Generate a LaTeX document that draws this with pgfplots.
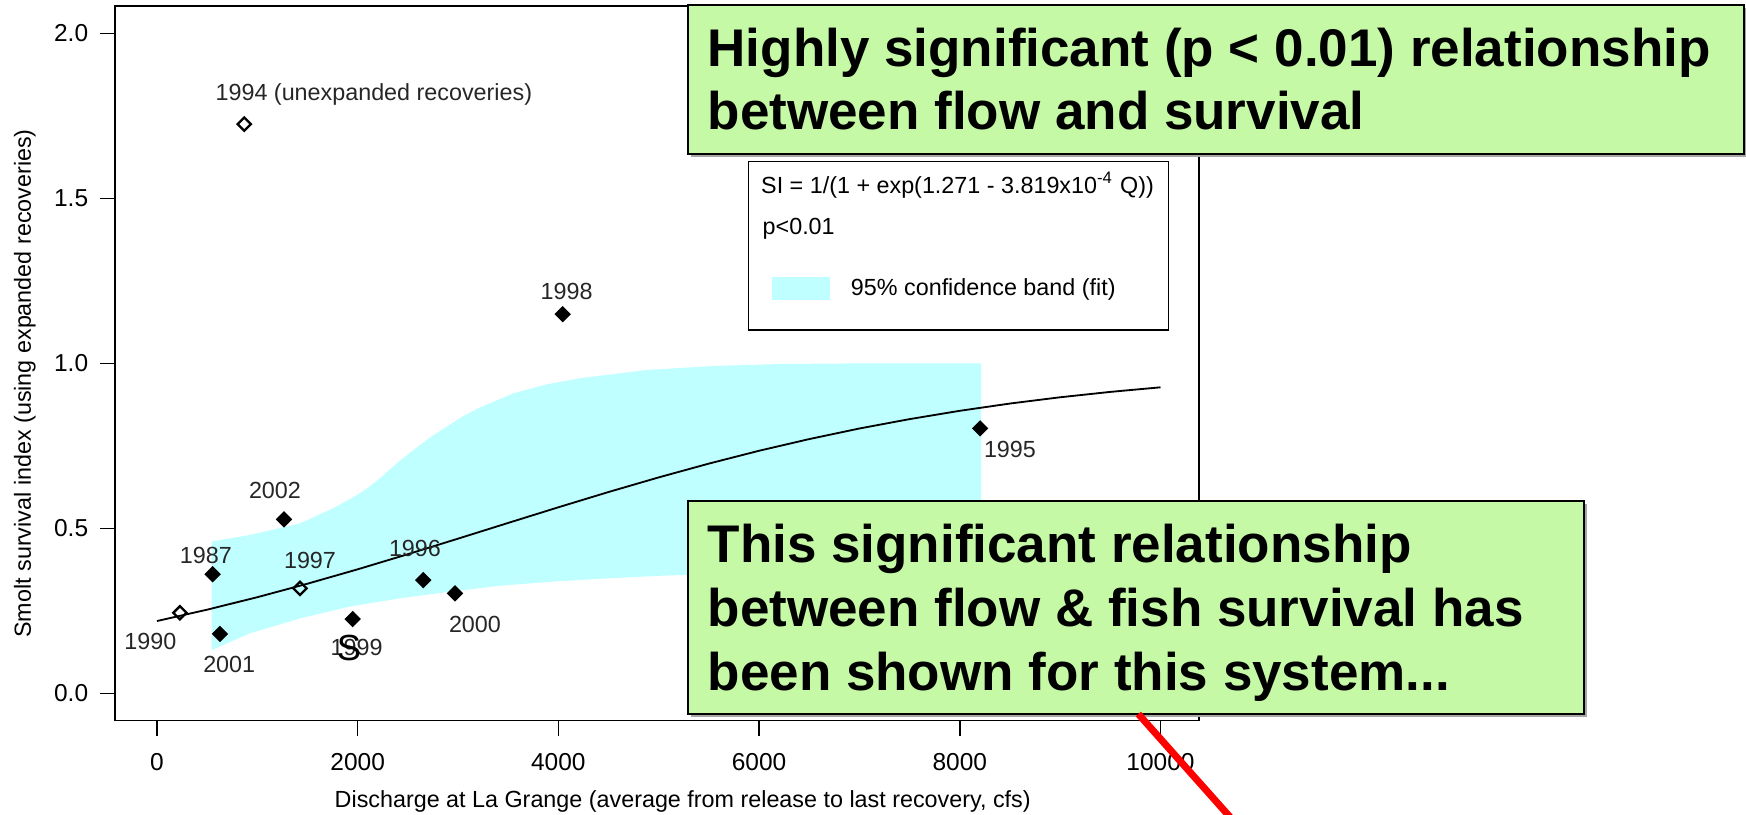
\documentclass[border=0pt]{standalone}
\usepackage{fontspec}
\setmainfont{Liberation Sans}
\usepackage{pgfplots}
\pgfplotsset{compat=1.18}
\definecolor{bandcyan}{RGB}{192,255,255}
\definecolor{boxgreen}{RGB}{198,249,166}
\newcommand{\smallf}{\fontsize{7pt}{8.4pt}\selectfont}
\newcommand{\bigf}{\bfseries\fontsize{15.9pt}{19pt}\selectfont}
\begin{document}
\begin{tikzpicture}
\begin{axis}[
  at={(34.44pt,27.99pt)}, anchor=south west,
  scale only axis, width=325.26pt, height=214.41pt,
  xmin=-420, xmax=10384, ymin=-0.083, ymax=2.083,
  scaled x ticks=false, scaled y ticks=false,
  axis line style={line width=0.45pt},
  tick align=outside, major tick length=4.5pt,
  tick pos=left,
  tick style={line width=0.45pt, black},
  xtick={0,2000,4000,6000,8000,10000},
  xticklabels={0,2000,4000,6000,8000,10000},
  ytick={0,0.5,1,1.5,2},
  yticklabels={0.0,0.5,1.0,1.5,2.0},
  ticklabel style={font=\fontsize{7.35pt}{8.8pt}\selectfont},
  xticklabel style={inner sep=0pt, anchor=north, yshift=-5.1pt},
  yticklabel style={inner sep=0pt, anchor=east, xshift=-3.3pt},
  xlabel={Discharge at La Grange (average from release to last recovery, cfs)},
  ylabel={Smolt survival index (using expanded recoveries)},
  every axis x label/.style={at={(axis description cs:0.5238,-0.1212)}, anchor=base, inner sep=0pt, font=\smallf},
  every axis y label/.style={at={(axis description cs:-0.0829,0.472)}, anchor=center, rotate=90, inner sep=0pt, font=\smallf},
  clip=false,
]
% 95% confidence band
\addplot[fill=bandcyan, draw=none] coordinates {
 (545,0.131) (545,0.460) (927,0.480) (1425,0.515) (1757,0.561) (1950,0.593) (2090,0.620)
 (2223,0.652) (2400,0.700) (2555,0.737) (2720,0.775) (2887,0.808) (3050,0.840) (3219,0.866)
 (3551,0.909) (3880,0.936) (4216,0.955)
 (4881,0.980) (5545,0.992) (6210,0.998) (7000,1.000) (8213,1.000)
 (8213,0.382) (7000,0.374) (6000,0.366) (5000,0.356) (4400,0.347) (3917,0.338)
 (3419,0.326) (2920,0.308) (2422,0.288) (1924,0.263) (1425,0.227) (927,0.182)
 (545,0.131)
};
% fitted logistic curve (values typed)
\addplot[black, line width=0.55pt] coordinates {
 (0,0.2191) (500,0.2535) (1000,0.2913) (1500,0.3322) (2000,0.3758) (2500,0.4216)
 (3000,0.4687) (3500,0.5164) (4000,0.5638) (4500,0.6101) (5000,0.6544) (5500,0.6962)
 (6000,0.7351) (6500,0.7705) (7000,0.8026) (7500,0.8310) (8000,0.8562) (8500,0.8782)
 (9000,0.8972) (9500,0.9135) (10000,0.9274)
};
% filled diamonds
\addplot[only marks, mark=square*, mark size=1.54pt, mark options={rotate=45, fill=black, draw=black}] coordinates {
 (555,0.361) (628,0.180) (1266,0.527) (1950,0.225) (2654,0.343) (2970,0.303) (4043,1.149) (8203,0.803)
};
% open diamonds
\addplot[only marks, mark=square, mark size=1.4pt, mark options={rotate=45, draw=black, fill=white, line width=0.7pt}] coordinates {
 (229,0.244) (1425,0.318) (870,1.725)
};
% point labels
\begin{scope}[every node/.style={font=\smallf, inner sep=0pt, text=black!85}]
\node[anchor=west] at (axis cs:578,1.815) {1994 (unexpanded recoveries)};
\node at (axis cs:4083,1.217) {1998};
\node at (axis cs:8500,0.739) {1995};
\node at (axis cs:1176,0.614) {2002};
\node at (axis cs:488,0.419) {1987};
\node at (axis cs:1525,0.404) {1997};
\node at (axis cs:2571,0.439) {1996};
\node at (axis cs:3169,0.210) {2000};
\node at (axis cs:720,0.086) {2001};
\node at (axis cs:1990,0.139) {1999};
\node at (axis cs:-65,0.156) {1990};
\end{scope}
\node[inner sep=0pt, font=\fontsize{10.9pt}{12pt}\selectfont] at (axis cs:1913,0.136) {S};
\end{axis}
\begin{scope}[x=0.3pt, y=0.3pt]
% legend box
\draw[line width=0.45pt, fill=white] (748.3,484) rectangle (1168.3,652.3);
\fill[bandcyan] (771.8,514) rectangle (829.6,537.3);
\node[anchor=base west, inner sep=0pt, font=\smallf] at (760.5,620.7) {SI = 1/(1 + exp(1.271 - 3.819x10\textsuperscript{-4} Q))};
\node[anchor=base west, inner sep=0pt, font=\smallf] at (762,579) {p<0.01};
\node[anchor=base west, inner sep=0pt, font=\smallf] at (850.3,518.4) {95\% confidence band (fit)};
% green box 1
\fill[black!35] (691.2,657) rectangle (1747,806);
\draw[line width=0.6pt, fill=boxgreen] (688.2,660) rectangle (1744,809);
\node[anchor=base west, inner sep=0pt, font=\bigf] at (707,747.3) {Highly significant (p < 0.01) relationship};
\node[anchor=base west, inner sep=0pt, font=\bigf] at (707,684.7) {between flow and survival};
% green box 2
\fill[black!35] (691.2,97) rectangle (1587,310);
\draw[line width=0.6pt, fill=boxgreen] (688.2,100) rectangle (1584,313);
\node[anchor=base west, inner sep=0pt, font=\bigf] at (707,251.3) {This significant relationship};
\node[anchor=base west, inner sep=0pt, font=\bigf] at (707,187.3) {between flow \& fish survival has};
\node[anchor=base west, inner sep=0pt, font=\bigf] at (707,123.3) {been shown for this system...};
% red line
\draw[red, line width=2.1pt] (1138.3,100) -- (1236.2,-10);
\end{scope}
\pgfresetboundingbox
\useasboundingbox (0,0) rectangle (523.8pt,244.2pt);
\end{tikzpicture}
\end{document}
